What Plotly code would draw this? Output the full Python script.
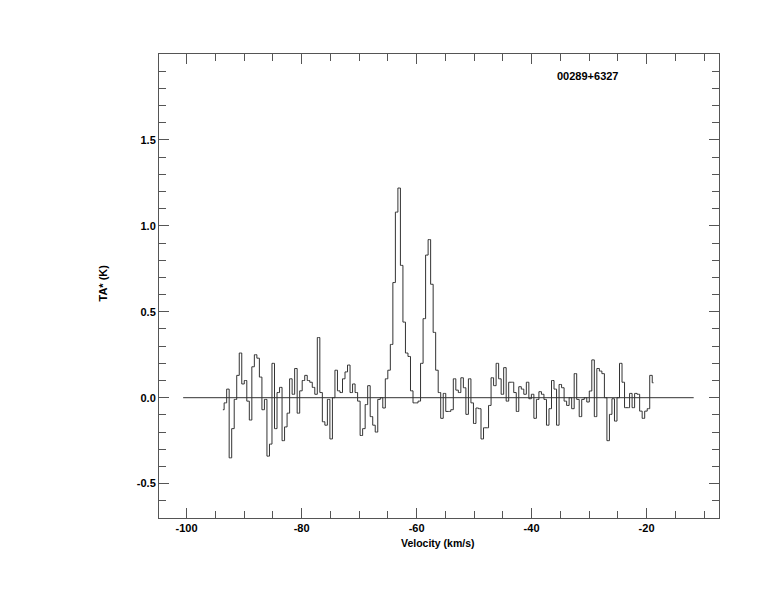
import numpy as np
import plotly.graph_objects as go

# Spectrum: antenna temperature per channel (K)
ta = [
    -0.07, -0.03, 0.05, -0.35, -0.18, -0.01, 0.13, 0.26, 0.08, 0.10,
    -0.02, -0.13, 0.18, 0.25, 0.23, 0.12, -0.07, -0.01, -0.34, -0.27,
    0.20, -0.18, 0.03, 0.06, -0.25, -0.17, -0.09, 0.11, 0.02, 0.17,
    -0.09, 0.04, 0.10, 0.13, 0.10, 0.09, 0.06, 0.02, 0.35, 0.03,
    -0.14, -0.16, -0.01, -0.24, 0.00, 0.16, 0.04, 0.03, 0.11, 0.15,
    0.19, 0.03, 0.08, 0.03, -0.02, -0.22, -0.18, -0.04, 0.07, -0.11,
    -0.16, -0.20, -0.01, 0.00, -0.06, 0.11, 0.16, 0.31, 0.67, 1.08,
    1.22, 0.77, 0.44, 0.26, 0.24, 0.04, -0.03, -0.03, -0.02, 0.20,
    0.46, 0.83, 0.92, 0.66, 0.38, 0.16, 0.03, -0.12, 0.025, -0.08,
    -0.08, -0.07, 0.11, 0.044, 0.03, 0.116, 0.058, -0.097, 0.11, -0.03,
    -0.15, -0.06, -0.064, -0.24, -0.175, -0.175, -0.045, 0.116, 0.07, 0.20,
    0.11, 0.02, 0.175, -0.02, 0.09, 0.09, 0.03, -0.08, 0.064, 0.05,
    0.02, 0.09, -0.006, 0.02, -0.12, -0.01, 0.035, 0.02, -0.01, -0.16,
    -0.064, 0.10, 0.05, -0.16, 0.077, 0.058, -0.02, -0.045, 0.00, -0.064,
    0.14, -0.01, -0.11, -0.01, 0.00, -0.025, 0.039, 0.22, -0.11, 0.17,
    0.155, 0.14, 0.00, -0.25, -0.097, -0.006, -0.136, 0.00, 0.20, 0.09,
    -0.058, -0.058, 0.025, -0.058, 0.025, 0.02, -0.078, -0.12, -0.078, -0.064,
    0.13, 0.087,
]
v_start = -93.69      # km/s, first channel centre
v_width = 0.438       # km/s, channel width
velocity = v_start + v_width * np.arange(len(ta))

baseline_v = [-100.6, -11.8]
baseline_t = [0.0, 0.0]

source_name = "00289+6327"
x_title = "Velocity (km/s)"
y_title = "TA* (K)"
x_ticks = [-100, -80, -60, -40, -20]
y_ticks = [-0.5, 0.0, 0.5, 1.0, 1.5]
y_tick_text = ["-0.5", "0.0", "0.5", "1.0", "1.5"]

FONT = "Liberation Sans, Arial, sans-serif"
AX = "#555555"

fig = go.Figure()
fig.add_trace(go.Scatter(x=baseline_v, y=baseline_t, mode="lines",
                         line=dict(color="#333333", width=1), hoverinfo="skip"))
fig.add_trace(go.Scatter(x=velocity, y=ta, mode="lines",
                         line=dict(color="#333333", width=1, shape="hvh")))

axis_common = dict(showgrid=False, zeroline=False, showline=True, linecolor=AX,
                   linewidth=1, mirror="ticks", ticks="inside", ticklen=10,
                   tickcolor=AX, tickwidth=1,
                   tickfont=dict(family=FONT, size=11, color="black"))

fig.update_xaxes(range=[-104.8, -7.4], tickvals=x_ticks,
                 ticktext=["<b>%d</b>" % t for t in x_ticks],
                 minor=dict(dtick=5, tick0=0, ticks="inside", ticklen=7,
                            tickcolor=AX, showgrid=False),
                 **axis_common)
fig.update_yaxes(range=[-0.7, 2.0], tickvals=y_ticks,
                 ticktext=["<b>%s</b>" % t for t in y_tick_text],
                 minor=dict(dtick=0.1, tick0=0, ticks="inside", ticklen=7,
                            tickcolor=AX, showgrid=False),
                 **axis_common)

fig.add_annotation(text="<b>" + source_name + "</b>", xref="paper", yref="paper",
                   x=0.765, y=0.953, xanchor="center", yanchor="middle",
                   showarrow=False, font=dict(family=FONT, size=11, color="black"))
fig.add_annotation(text="<b>" + x_title + "</b>", xref="paper", yref="paper",
                   x=0.4977, y=-0.053, xanchor="center", yanchor="middle",
                   showarrow=False, font=dict(family=FONT, size=10.5, color="black"))
fig.add_annotation(text="<b>" + y_title + "</b>", xref="paper", yref="paper",
                   x=-0.1005, y=0.507, xanchor="center", yanchor="middle",
                   textangle=-90, showarrow=False,
                   font=dict(family=FONT, size=11, color="black"))

fig.update_layout(width=774, height=612, showlegend=False,
                  margin=dict(l=151, r=63, t=46, b=102),
                  paper_bgcolor="white", plot_bgcolor="white")

fig.write_html("out.html")
